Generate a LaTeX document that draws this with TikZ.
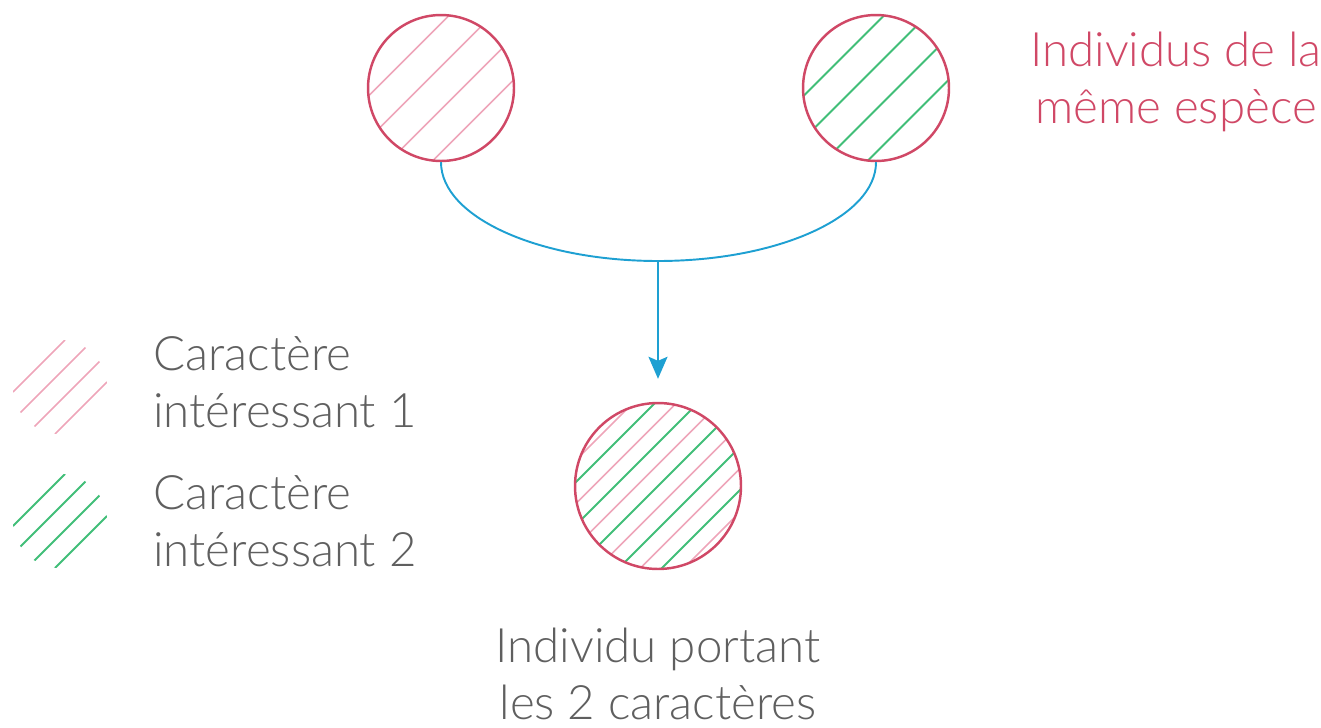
\documentclass[tikz,border=0pt]{standalone}
\usepackage{fontspec}
\setmainfont{Lato Light}
\usetikzlibrary{arrows.meta}
\definecolor{rosecercle}{RGB}{208,72,102}
\definecolor{rosehach}{RGB}{238,165,185}
\definecolor{verthach}{RGB}{65,190,120}
\definecolor{bleufleche}{RGB}{30,160,210}
\definecolor{gristexte}{RGB}{95,95,95}
\tikzset{
  indiv/.style={circle,draw=rosecercle,line width=1.4pt,inner sep=0pt},   % individu
  car1/.style={rosehach,line width=0.85pt},                               % caractere 1
  car2/.style={verthach,line width=1.15pt},                               % caractere 2
  lien/.style={bleufleche,line width=1.1pt},
  fleche/.style={lien,-{Stealth[length=4.4mm,width=3.8mm,inset=0.8mm]}},
  texte/.style={gristexte,font=\fontsize{27}{32}\selectfont,inner sep=0pt},
  titre/.style={texte,text=rosecercle,align=center},
}
\newcommand{\hachures}[5]{% cx, cy, r, style, offsets
  \begin{scope}
    \clip (#1,#2) circle[radius=#3];
    \foreach \d in {#5}
      \draw[#4] (#1+\d/2-#3-10,#2+\d/2+#3+10) -- (#1+\d/2+#3+10,#2+\d/2-#3-10);
  \end{scope}
}

\begin{document}
\begin{tikzpicture}[x=0.02cm,y=-0.02cm]
  \useasboundingbox (0,0) rectangle (1321,727);
  % parents
  \hachures{441}{88}{73}{car1}{-64.5,-21.5,21.5,64.5}
  \hachures{876}{88}{73}{car2}{-64.5,-21.5,21.5,64.5}
  \node[indiv,minimum size=2.92cm] (parent1) at (441,88) {};
  \node[indiv,minimum size=2.92cm] (parent2) at (876,88) {};
  \node[titre,anchor=base] (espece) at (1176,123) {Individus de la\\même espèce};
  % descendant
  \hachures{658}{486}{83}{car1}{-108,-64.5,-21.5,21.5,64.5,108}
  \hachures{658}{486}{83}{car2}{-86,-43,0,43,86}
  \node[indiv,minimum size=3.32cm] (enfant) at (658,486) {};
  \node[texte,align=center,anchor=base] (porteur) at (658,719) {Individu portant\\les 2 caractères};
  % croisement
  \coordinate (jonction) at (658,261);
  \draw[lien] (parent1.south) .. controls +(0,55) and +(-119,0) .. (jonction)
    .. controls +(119,0) and +(0,55) .. (parent2.south);
  \draw[fleche,shorten >=0.46cm] (jonction) -- (enfant.north);
  % legende
  \hachures{60}{387}{47}{car1}{-42,-14,14,42}
  \hachures{60}{521}{47}{car2}{-42,-14,14,42}
  \node[texte,align=left,anchor=base west] (leg1) at (153,427) {Caractère\\intéressant 1};
  \node[texte,align=left,anchor=base west] (leg2) at (153,566) {Caractère\\intéressant 2};
\end{tikzpicture}
\end{document}
